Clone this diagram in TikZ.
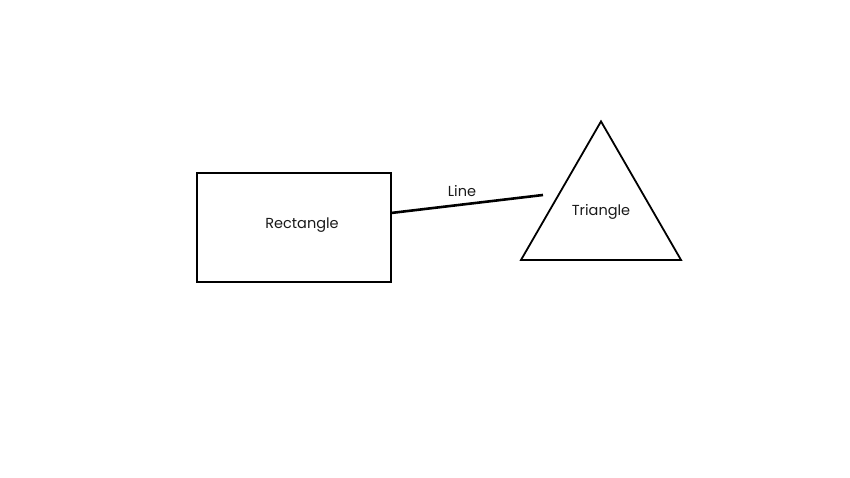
\documentclass[tikz,border=0pt]{standalone}
\usepackage{fontspec}
\setmainfont{Poppins}
\usetikzlibrary{shapes.geometric,calc}
\begin{document}
\begin{tikzpicture}[x=1pt,y=1pt,
  lbl/.style={font=\fontsize{14.5}{17}\selectfont, text=black!90},
  rectbox/.style={draw, line width=2.6pt, minimum width=194pt, minimum height=109pt, inner sep=0pt, outer sep=0pt},
  tribox/.style={draw, line width=1.8pt, regular polygon, regular polygon sides=3, minimum size=184.8pt, inner sep=0pt, outer sep=0pt},
  conn/.style={line width=2.6pt}]
\useasboundingbox (0,0) rectangle (850,478);
\node[rectbox] (rect) at (294,250.5) {};
\node[lbl] (rectlbl) at (302,253) {Rectangle};
\node[tribox] (tri) at (601,264.2) {};
\node[lbl] (trilbl) at (601,266) {Triangle};
\coordinate (lineend) at (543,283);
\coordinate (linestart) at ($(rect.east)+(0,14.5)$);
\draw[conn] (linestart) -- (lineend);
\node[lbl] (linelbl) at (462,287) {Line};
\end{tikzpicture}
\end{document}
